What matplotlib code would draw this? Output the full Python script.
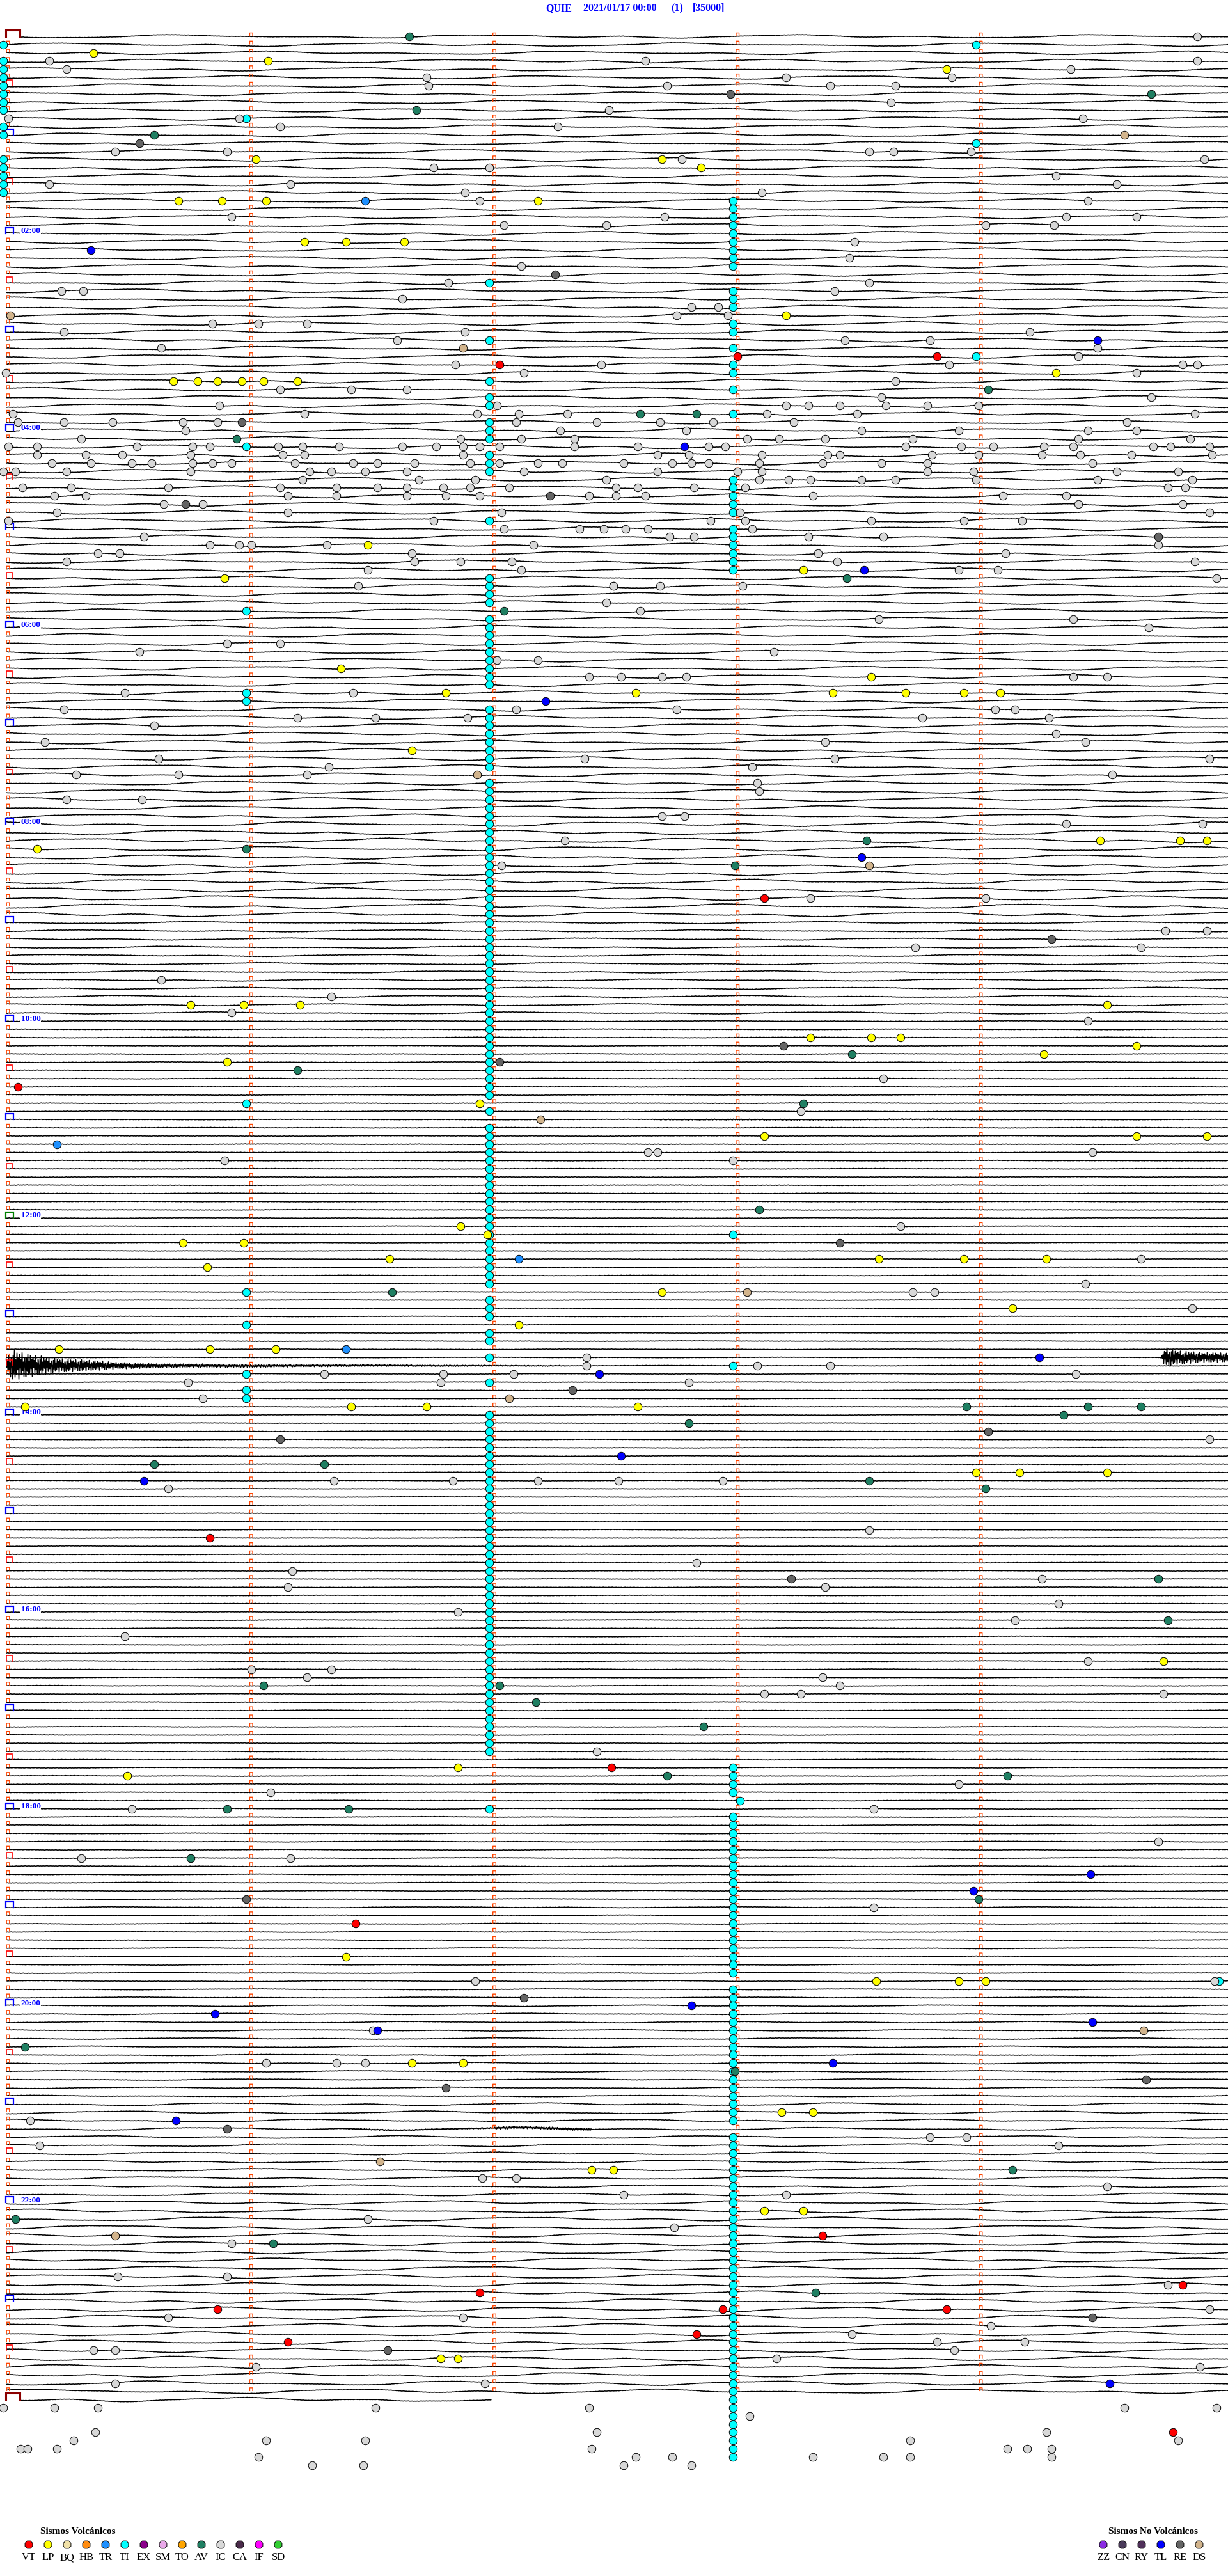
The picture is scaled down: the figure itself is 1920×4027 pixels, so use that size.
import numpy as np
import matplotlib.pyplot as plt
from matplotlib.collections import LineCollection

# ---- data read from the helicorder (row = 5-minute line, t = minutes into the line) ----
STATION = "QUIE"
START = "2021/01/17 00:00"
CHANNEL = "(1)"
SCALE = "[35000]"
HOUR_LABELS = ["02:00", "04:00", "06:00", "08:00", "10:00", "12:00",
               "14:00", "16:00", "18:00", "20:00", "22:00"]
HOUR_LABEL_ROWS = [24, 48, 72, 96, 120, 144, 168, 192, 216, 240, 264]
N_ROWS = 289

VOLC_CODES = ["VT", "LP", "BQ", "HB", "TR", "TI", "EX", "SM", "TO", "AV", "IC", "CA", "IF", "SD"]
VOLC_COLORS = ["#ff0000", "#ffff00", "#f2e2a8", "#ff8c10", "#1e90ff", "#00ffff", "#8b008b",
               "#e8a8e8", "#ffa500", "#1f7f62", "#d8d8d8", "#4a2a4a", "#ff00ff", "#32cd32"]
NOVOLC_CODES = ["ZZ", "CN", "RY", "TL", "RE", "DS"]
NOVOLC_COLORS = ["#8a2be2", "#4a3a5a", "#50305a", "#0000ff", "#646464", "#d2b48c"]

VT = [(40, 2.02), (39, 3.00), (39, 3.82), (128, 0.04), (105, 3.11), (183, 0.83), (211, 2.48),
      (230, 1.43), (268, 3.35), (274, 4.83), (275, 1.94), (277, 0.86), (277, 2.94), (277, 3.86),
      (280, 2.83), (281, 1.15), (292, 4.79)]
LP = [(2, 0.35), (3, 1.07), (15, 1.02), (20, 0.70), (20, 0.88), (20, 1.06), (20, 2.18), (25, 1.22),
      (25, 1.39), (25, 1.63), (42, 0.68), (42, 0.78), (42, 0.86), (42, 0.96), (42, 1.05), (42, 1.19),
      (62, 1.48), (66, 0.89), (77, 1.37), (80, 1.80), (87, 1.66), (99, 0.12),
      (4, 3.86), (15, 2.69), (16, 2.85), (34, 3.20), (41, 4.31), (65, 3.27), (78, 3.55), (80, 2.58),
      (80, 3.39), (80, 3.69), (80, 3.93), (80, 4.08), (98, 4.49), (98, 4.82), (98, 4.93),
      (118, 0.75), (118, 0.97), (118, 1.20), (125, 0.90), (130, 1.94), (145, 1.86), (146, 1.97),
      (147, 0.72), (147, 0.97), (149, 1.57), (150, 0.82), (157, 2.10), (160, 0.21), (160, 0.83),
      (160, 1.10), (167, 0.07), (167, 1.41), (167, 1.72),
      (118, 4.52), (122, 3.30), (122, 3.55), (122, 3.67), (123, 4.64), (124, 4.26), (134, 3.11),
      (134, 4.64), (134, 4.93), (149, 3.58), (149, 3.93), (149, 4.27), (153, 2.69), (155, 4.13),
      (167, 2.59), (175, 3.98), (175, 4.16), (175, 4.52), (198, 4.75),
      (211, 1.85), (212, 0.49), (234, 1.39), (247, 1.66), (247, 1.87), (260, 2.40), (260, 2.49),
      (283, 1.78), (283, 1.85), (237, 3.57), (237, 3.91), (237, 4.02), (253, 3.18), (253, 3.31),
      (265, 3.11), (265, 3.27)]
TR = [(20, 1.47), (135, 0.20), (149, 2.10), (160, 1.39)]
TL = [(26, 0.34), (81, 2.21), (37, 4.48), (50, 2.78), (65, 3.52), (100, 3.51), (163, 2.43),
      (161, 4.24), (173, 2.52), (176, 0.56), (224, 4.45), (226, 3.97), (240, 2.81), (241, 0.85),
      (242, 4.46), (243, 1.52), (247, 3.39), (254, 0.69), (286, 4.53)]
AV = [(0, 1.65), (9, 1.68), (12, 0.60), (49, 0.94), (70, 2.04), (99, 0.98), (7, 4.70), (43, 4.03),
      (46, 2.60), (46, 2.83), (66, 3.45), (98, 3.53), (101, 2.99), (124, 3.47), (126, 1.19),
      (130, 3.27), (143, 3.09), (153, 1.58), (167, 3.94), (167, 4.44), (167, 4.66), (168, 4.34),
      (169, 2.80), (174, 0.60), (174, 1.30), (176, 3.54), (177, 4.02), (188, 4.73), (193, 4.77),
      (201, 1.05), (201, 2.02), (203, 2.17), (206, 2.86), (212, 2.71), (212, 4.11), (216, 0.90),
      (216, 1.40), (222, 0.75), (227, 3.99), (245, 0.07), (248, 2.99), (260, 4.13), (266, 0.03),
      (269, 1.09), (275, 3.32)]
RE = [(13, 0.54), (29, 2.25), (47, 0.96), (56, 2.23), (57, 0.73), (7, 2.97), (61, 4.73),
      (125, 2.02), (165, 2.32), (171, 1.12), (110, 4.29), (123, 3.19), (147, 3.42), (170, 4.03),
      (188, 3.22), (227, 0.98), (239, 2.12), (250, 1.80), (255, 0.90), (282, 1.56), (249, 4.68),
      (278, 4.46)]
DS = [(34, 0.01), (38, 1.87), (90, 1.93), (12, 4.59), (132, 2.19), (166, 2.06), (101, 3.54),
      (153, 3.04), (259, 1.53), (268, 0.44), (243, 4.67)]
IC = [(3, 0.17), (4, 0.24), (5, 1.72), (6, 1.73), (9, 2.47), (10, 0.0), (10, 0.95), (11, 1.12),
      (11, 2.26), (14, 0.44), (14, 0.90), (16, 1.75), (16, 1.98), (18, 0.17), (18, 1.16), (19, 1.88),
      (20, 1.94), (22, 0.92), (23, 2.04), (23, 2.46), (28, 2.11), (30, 1.81), (31, 0.22), (31, 0.31),
      (32, 1.62), (35, 0.84), (35, 1.03), (35, 1.23), (36, 0.23), (36, 1.88), (37, 1.60), (38, 0.63),
      (40, 1.84), (40, 2.44), (41, -0.01), (41, 2.12), (43, 1.12), (43, 1.41), (43, 1.64), (45, 0.87),
      (45, 2.01), (46, 0.02), (46, 1.22), (46, 1.93), (46, 2.10), (46, 2.30), (47, 0.04), (47, 0.23),
      (47, 0.43), (47, 0.72), (47, 0.86), (47, 2.09), (47, 2.42), (48, 0.73), (48, 2.27), (49, 0.30),
      (49, 1.86), (49, 2.11), (49, 2.33), (50, 0.0), (50, 0.12), (50, 0.53), (50, 0.76), (50, 0.83),
      (50, 1.11), (50, 1.21), (50, 1.36), (50, 1.62), (50, 1.76), (50, 1.87), (50, 1.94), (50, 2.02),
      (50, 2.33), (51, 0.12), (51, 0.32), (51, 0.47), (51, 0.75), (51, 1.13), (51, 1.22), (51, 1.87),
      (52, 0.18), (52, 0.34), (52, 0.51), (52, 0.59), (52, 0.76), (52, 0.84), (52, 0.92), (52, 1.18),
      (52, 1.42), (52, 1.52), (52, 1.67), (52, 1.90), (52, 2.02), (52, 2.18), (52, 2.28), (53, -0.02),
      (53, 0.03), (53, 0.24), (53, 0.75), (53, 1.24), (53, 1.33), (53, 1.47), (53, 1.64), (53, 2.12),
      (54, 1.21), (54, 1.69), (54, 1.92), (54, 2.46), (55, 0.06), (55, 0.26), (55, 0.66), (55, 1.12),
      (55, 1.35), (55, 1.52), (55, 1.64), (55, 1.79), (55, 1.90), (55, 2.06), (56, 0.19), (56, 0.32),
      (56, 1.15), (56, 1.35), (56, 1.64), (56, 1.80), (56, 1.94), (56, 2.39), (57, 0.64), (57, 0.80),
      (58, 0.20), (58, 1.15), (58, 2.03), (59, 0.0), (59, 1.75), (60, 2.04), (60, 2.35), (60, 2.45),
      (61, 0.56), (62, 0.83), (62, 0.95), (62, 1.00), (62, 1.31), (62, 2.16), (63, 0.37), (63, 0.46),
      (63, 1.66), (64, 0.24), (64, 1.67), (64, 1.86), (64, 2.07), (65, 1.48), (65, 2.11), (67, 1.44),
      (67, 2.49), (69, 2.46), (74, 0.90), (74, 1.12), (75, 0.54), (76, 2.01), (76, 2.18), (78, 2.39),
      (80, 0.48), (80, 1.42), (82, 0.23), (82, 2.09), (83, 1.19), (83, 1.51), (83, 1.89), (84, 0.60),
      (86, 0.15), (88, 0.62), (88, 2.37), (89, 1.32), (90, 0.28), (90, 0.70), (90, 1.23), (93, 0.24),
      (93, 0.55), (98, 2.29),
      (0, 4.89), (3, 2.62), (3, 4.89), (4, 4.37), (5, 3.20), (5, 3.88), (6, 2.71), (6, 3.38),
      (6, 3.65), (8, 3.63), (10, 4.42), (14, 3.54), (14, 3.64), (14, 3.96), (15, 2.77), (15, 4.92),
      (17, 4.31), (18, 4.56), (19, 3.10), (20, 4.44), (22, 2.70), (22, 4.35), (22, 4.64), (23, 4.02),
      (23, 4.30), (25, 3.48), (27, 3.46), (30, 3.54), (31, 3.40), (33, 2.81), (33, 2.92), (34, 2.75),
      (34, 2.96), (36, 4.20), (37, 3.44), (37, 3.79), (38, 4.48), (39, 4.40), (40, 3.87), (40, 4.83),
      (40, 4.89), (41, 4.64), (42, 3.65), (44, 3.59), (44, 4.70), (45, 3.20), (45, 3.29), (45, 3.42),
      (45, 3.61), (45, 3.78), (45, 3.99), (46, 3.12), (46, 3.49), (46, 4.88), (47, 2.68), (47, 2.90),
      (47, 3.23), (47, 4.60), (48, 2.79), (48, 3.51), (48, 3.91), (48, 4.44), (48, 4.64), (49, 3.04),
      (49, 3.17), (49, 3.36), (49, 3.72), (49, 4.40), (49, 4.86), (50, 2.59), (50, 2.88), (50, 2.95),
      (50, 3.69), (50, 3.92), (50, 4.05), (50, 4.26), (50, 4.38), (50, 4.71), (50, 4.78), (50, 4.94),
      (51, 2.67), (51, 2.80), (51, 3.10), (51, 3.37), (51, 3.42), (51, 3.80), (51, 3.99), (51, 4.25),
      (51, 4.41), (51, 4.62), (51, 4.95), (52, 2.53), (52, 2.73), (52, 2.81), (52, 2.88), (52, 3.09),
      (52, 3.35), (52, 3.59), (52, 3.78), (52, 4.46), (53, 2.67), (53, 3.00), (53, 3.10), (53, 3.78),
      (53, 3.97), (53, 4.56), (53, 4.81), (54, 3.09), (54, 3.21), (54, 3.30), (54, 3.51), (54, 3.65),
      (54, 3.98), (54, 4.48), (54, 4.87), (55, 2.50), (55, 2.59), (55, 2.82), (55, 3.03), (55, 4.77),
      (55, 4.84), (56, 2.50), (56, 2.62), (56, 3.31), (56, 4.09), (56, 4.35), (57, 4.40), (57, 4.83),
      (58, 3.01), (58, 4.94), (59, 2.89), (59, 3.03), (59, 3.55), (59, 3.93), (59, 4.17), (60, 2.54),
      (60, 2.63), (60, 3.06), (61, 2.72), (61, 2.82), (61, 3.29), (61, 3.60), (62, 4.73), (63, 3.33),
      (63, 4.10), (64, 3.41), (64, 4.88), (65, 3.91), (65, 4.07), (66, 4.97), (67, 2.49), (67, 2.68),
      (67, 3.02), (70, 2.60), (71, 3.58), (71, 4.38), (72, 4.69), (75, 3.15), (78, 2.52), (78, 2.69),
      (78, 2.79), (78, 4.38), (78, 4.52), (82, 2.75), (82, 4.06), (82, 4.14), (83, 3.76), (83, 4.28),
      (85, 4.31), (86, 3.36), (86, 4.43), (88, 3.40), (88, 4.94), (89, 3.06), (90, 4.54), (91, 3.08),
      (92, 3.09), (95, 2.69), (95, 2.78), (96, 4.35), (96, 4.91),
      (101, 2.03), (115, 0.63), (117, 1.33), (119, 0.92), (137, 0.89), (161, 2.38), (162, 2.38),
      (163, 1.30), (163, 1.79), (163, 2.08), (164, 0.74), (164, 1.78), (166, 0.80), (176, 1.34),
      (176, 1.83), (176, 2.18), (177, 0.66), (187, 1.17), (189, 1.15), (192, 1.85), (195, 0.48),
      (199, 1.00), (199, 1.33), (200, 1.23),
      (105, 3.30), (105, 4.02), (109, 4.76), (109, 4.93), (111, 3.73), (111, 4.66), (120, 4.44),
      (127, 3.60), (131, 3.26), (136, 2.63), (136, 2.67), (136, 4.46), (137, 2.98), (145, 3.67),
      (149, 4.66), (152, 4.43), (153, 3.72), (153, 3.81), (155, 4.87), (162, 3.08), (162, 3.38),
      (163, 4.39), (164, 2.80), (171, 4.94), (176, 2.51), (176, 2.94), (182, 3.54), (186, 2.83),
      (188, 4.25), (189, 3.36), (191, 4.32), (193, 4.14), (198, 4.44), (200, 3.35), (201, 3.42),
      (209, 2.42), (214, 1.08), (216, 0.51), (222, 0.30), (222, 1.16), (237, 1.92), (243, 1.50),
      (247, 1.06), (247, 1.35), (247, 1.47), (254, 0.09), (257, 0.13), (261, 1.95), (261, 2.09),
      (266, 1.48), (269, 0.92), (273, 0.45), (273, 0.90), (278, 0.66), (278, 1.87), (282, 0.35),
      (282, 0.44), (284, 1.02), (286, 0.44), (286, 1.96), (289, -0.02), (289, 0.19), (289, 0.37),
      (289, 1.51), (289, 2.39), (292, 0.36), (292, 2.42), (293, 0.27), (293, 1.06), (293, 1.47),
      (294, 0.05), (294, 0.08), (294, 0.20), (294, 2.40), (295, 1.03), (296, 1.25), (296, 1.46),
      (202, 3.11), (202, 3.26), (202, 4.75), (213, 3.91), (216, 3.56), (220, 4.73), (228, 3.56),
      (237, 4.96), (256, 3.79), (256, 3.94), (257, 4.32), (262, 4.52), (263, 2.53), (263, 3.20),
      (267, 2.74), (274, 4.77), (277, 4.94), (279, 4.04), (280, 3.47), (281, 3.82), (281, 4.18),
      (282, 3.89), (283, 3.16), (284, 4.90), (289, 4.59), (289, 4.97), (290, 3.05), (292, 4.27),
      (293, 3.71), (293, 4.81), (294, 4.11), (294, 4.19), (294, 4.29), (295, 2.58), (295, 2.73),
      (295, 3.31), (295, 3.60), (295, 3.71), (295, 4.29), (296, 2.53), (296, 2.81)]

# TI tremor picks come in long columns: (first row, last row, minute)
TI_RUNS = [(1, 1, -0.02), (3, 9, -0.02), (11, 12, -0.02), (15, 19, -0.02),
           (10, 10, 0.98), (50, 50, 0.98), (70, 70, 0.98), (80, 81, 0.98), (130, 130, 0.98),
           (153, 153, 0.98), (157, 157, 0.98), (163, 163, 0.98), (165, 166, 0.98),
           (30, 30, 1.98), (37, 37, 1.98), (42, 42, 1.98), (44, 45, 1.98), (47, 49, 1.98),
           (51, 53, 1.98), (59, 59, 1.98), (66, 69, 1.98), (71, 79, 1.98), (82, 89, 1.98),
           (91, 129, 1.98), (131, 131, 1.98), (133, 152, 1.98), (154, 156, 1.98), (158, 159, 1.98),
           (161, 161, 1.98), (164, 164, 1.98), (168, 209, 1.98), (216, 216, 1.98),
           (20, 28, 2.98), (31, 33, 2.98), (35, 36, 2.98), (38, 38, 2.98), (40, 41, 2.98),
           (43, 43, 2.98), (46, 46, 2.98), (54, 58, 2.98), (60, 65, 2.98), (146, 146, 2.98),
           (162, 162, 2.98), (211, 214, 2.98), (215, 215, 3.01), (217, 236, 2.98),
           (238, 254, 2.98), (256, 295, 2.98),
           (1, 1, 3.98), (13, 13, 3.98), (39, 39, 3.98), (237, 237, 4.98)]

# trace character by hour (px): long-period swell and short jitter
SWELL_AMP = [2.3, 2.4, 2.5, 2.5, 2.6, 2.4, 2.5, 2.5, 3.0, 1.3, 0.4, 0.3, 0.3, 0.3,
             0.3, 0.3, 0.4, 0.4, 0.5, 0.6, 0.9, 1.8, 2.5, 2.9, 2.9]
JITTER_AMP = [0.25, 0.25, 0.25, 0.25, 0.25, 0.25, 0.25, 0.25, 0.3, 0.35, 0.35, 0.35, 0.3, 0.3,
              0.3, 0.3, 0.3, 0.3, 0.3, 0.3, 0.3, 0.3, 0.25, 0.25, 0.25]
SWELL_A = [0.0, 0.8, 1.6, 2.0, 1.7, 0.9, -0.2, -1.2, -1.9, -2.1, -1.6, -0.8, 0.1, 0.7, 0.6, 0.2]
SWELL_B = [0.0, 0.6, 0.9, 0.5, -0.3, -0.9, -0.7, -0.1]
JITTER = [0.0, 0.4, -0.2, 0.6, 0.1, -0.5, 0.3, -0.1, 0.5, -0.4, 0.2, 0.0, -0.6, 0.3, 0.1, -0.3, 0.4]
BURST_WAVE = [0.0, 0.9, -0.7, 0.5, -1.0, 0.8, -0.4, 0.6, -0.9, 0.3, -0.6, 1.0, -0.8, 0.2, -0.5,
              0.7, -1.0, 0.4, -0.3, 0.9, -0.6]

# the regional quake that crosses 13:25 -> 13:30
BURST_END_ROW, BURST_END_T, BURST_END_AMP = 161, [4.74, 4.76, 4.80, 4.90, 5.02], [0, 16, 11, 8, 7]
BURST_START_ROW = 162
BURST_START_T = [0.0, 0.02, 0.08, 0.20, 0.35, 0.45, 0.65, 1.0, 1.6, 2.3]
BURST_START_AMP = [14, 24, 18, 11, 8, 5, 3, 2, 1.2, 0.4]
NOISE_SEGMENTS = [(132, 2.65, 4.10, 0.7), (255, 1.40, 2.00, 0.8), (255, 2.00, 2.40, 1.8)]

# ---- geometry of the page (pixels) ----
W, H = 1920, 4027
X0, PXM = 12.5, 380.25      # minute 0 and px per minute
Y0, PXR = 57.0, 12.827      # row 0 and px per row


def main() -> None:
    fig = plt.figure(figsize=(W / 100, H / 100), dpi=100)
    ax = fig.add_axes([0, 0, 1, 1])
    ax.set_xlim(-X0 / PXM, (W - X0) / PXM)
    ax.set_ylim((H - Y0) / PXR, -Y0 / PXR)
    ax.axis("off")
    px_r = 1 / PXR   # one pixel in row units
    px_m = 1 / PXM   # one pixel in minute units

    # traces
    xpx = np.arange(-3, W - X0 + 2, 1.0)
    idx = np.arange(len(xpx))
    t_all = xpx / PXM
    ka = np.linspace(0, 480, len(SWELL_A) + 1)
    kb = np.linspace(0, 144, len(SWELL_B) + 1)
    kj = np.arange(len(JITTER) + 1) * 2.0
    bw = np.array(BURST_WAVE)
    segs = []
    for r in range(N_ROWS):
        hr = min(r // 12, 24)
        pa = np.interp((xpx + 173 * r) % 480, ka, SWELL_A + [SWELL_A[0]])
        pb = np.interp((xpx + 61 * r) % 144, kb, SWELL_B + [SWELL_B[0]])
        pj = np.interp((xpx + 7 * r) % kj[-1], kj, JITTER + [JITTER[0]])
        off = SWELL_AMP[hr] * (pa + 0.5 * pb) / 2.0 + JITTER_AMP[hr] * pj * 2
        wave = bw[(idx + 5 * r) % len(bw)]
        if r == BURST_START_ROW:
            off = off + np.interp(t_all, BURST_START_T, BURST_START_AMP, right=0) * wave
        if r == BURST_END_ROW:
            off = off + np.interp(t_all, BURST_END_T, BURST_END_AMP, left=0) * wave
        for nr, t0, t1, amp in NOISE_SEGMENTS:
            if r == nr:
                off = off + np.where((t_all > t0) & (t_all < t1), amp, 0) * wave
        t = t_all
        y = r + off * px_r
        if r == 0 or r == N_ROWS - 1:
            keep = t >= 0.05
            if r == N_ROWS - 1:
                keep &= t <= 1.99
            t, y = t[keep], y[keep]
        segs.append(np.column_stack([t, y]))
    ax.add_collection(LineCollection(segs, colors="black", linewidths=1.15, zorder=2))

    # minute tick marks and hour / half-hour brackets
    mx, my = [], []
    for r in range(N_ROWS - 1):
        cols = [1, 2, 3, 4] if r % 6 == 0 else [0, 1, 2, 3, 4]
        for c in cols:
            mx += [c - 2.3 * px_m, c - 2.3 * px_m, c + 2.3 * px_m, c + 2.3 * px_m, np.nan]
            my += [r - 1 * px_r, r - 5.5 * px_r, r - 5.5 * px_r, r - 1 * px_r, np.nan]
    ax.plot(mx, my, color="#ff4500", lw=1.0, zorder=3)
    for r in range(0, N_ROWS, 6):
        if r in (0, N_ROWS - 1):
            x1, x2, h, col, lw = -3.5, 18.5, 10, "#8b0000", 2.2
        elif r % 12 == 0:
            x1, x2, h, col, lw = -3.5, 8.5, 9, ("#008000" if r == 144 else "#0000ff"), 1.6
        else:
            x1, x2, h, col, lw = -2.5, 6.5, 8.5, "#ff0000", 1.2
        ax.plot([x1 * px_m, x1 * px_m, x2 * px_m, x2 * px_m],
                [r, r - h * px_r, r - h * px_r, r], color=col, lw=lw, zorder=4,
                solid_joinstyle="miter")

    for lab, r in zip(HOUR_LABELS, HOUR_LABEL_ROWS):
        ax.text(20 * px_m, r - 0.6 * px_r, lab, color="#0000ff", fontsize=9.5, fontweight="bold",
                family="Liberation Serif", ha="left", va="baseline", zorder=5,
                bbox=dict(facecolor="white", edgecolor="none", pad=0.3))

    # event circles
    events = [("TI", None), ("IC", IC), ("LP", LP), ("AV", AV), ("RE", RE), ("DS", DS),
              ("TL", TL), ("TR", TR), ("VT", VT)]
    colors = dict(zip(VOLC_CODES + NOVOLC_CODES, VOLC_COLORS + NOVOLC_COLORS))
    for code, pts in events:
        if code == "TI":
            rr, tt = [], []
            for a, b, m in TI_RUNS:
                for r in range(a, b + 1):
                    rr.append(r)
                    tt.append(m)
        else:
            rr = [p[0] for p in pts]
            tt = [p[1] for p in pts]
        ax.scatter(tt, rr, s=80, c=colors[code], edgecolors="black", linewidths=0.7, zorder=6)

    # page furniture: title and legends in pixel space
    ov = fig.add_axes([0, 0, 1, 1], facecolor="none")
    ov.set_xlim(0, W)
    ov.set_ylim(H, 0)
    ov.axis("off")
    tkw = dict(color="#0000ff", fontsize=11.5, fontweight="bold", family="Liberation Serif",
               va="center", ha="left")
    for txt, x in zip([STATION, START, CHANNEL, SCALE], [853, 912, 1049, 1083]):
        ov.text(x, 13, txt, **tkw)

    lkw = dict(family="Liberation Serif", ha="center", va="center", color="black")
    ov.text(63, 3957, "Sismos Volcánicos", fontsize=11, fontweight="bold",
            family="Liberation Serif", ha="left", va="center")
    ov.scatter([45 + 30 * i for i in range(len(VOLC_CODES))], [3978] * len(VOLC_CODES),
               s=85, c=VOLC_COLORS, edgecolors="black", linewidths=0.7, marker="8")
    for i, code in enumerate(VOLC_CODES):
        ov.text(45 + 30 * i, 3998, code, fontsize=12, **lkw)
    ov.text(1733, 3957, "Sismos No Volcánicos", fontsize=11, fontweight="bold",
            family="Liberation Serif", ha="left", va="center")
    ov.scatter([1725 + 30 * i for i in range(len(NOVOLC_CODES))], [3978] * len(NOVOLC_CODES),
               s=85, c=NOVOLC_COLORS, edgecolors="black", linewidths=0.7, marker="8")
    for i, code in enumerate(NOVOLC_CODES):
        ov.text(1725 + 30 * i, 3998, code, fontsize=12, **lkw)

    fig.savefig("out.png", dpi=100, facecolor="white")


if __name__ == "__main__":
    main()
